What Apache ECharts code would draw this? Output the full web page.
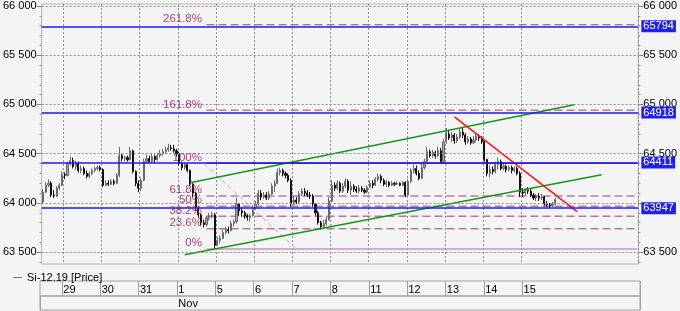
<!DOCTYPE html>
<html><head><meta charset="utf-8">
<script src="https://cdn.jsdelivr.net/npm/echarts@6/dist/echarts.min.js"></script>
<style>html,body{margin:0;padding:0;background:#f4f4f4}#c{width:680px;height:311px}</style>
</head><body><div id="c"></div><script>
// ---- data ----
const seriesName = 'Si-12.19 [Price]';
const days   = ['28','29','30','31','1','5','6','7','8','11','12','13','14','15'];
const months = ['Oct','Oct','Oct','Oct','Nov','Nov','Nov','Nov','Nov','Nov','Nov','Nov','Nov','Nov'];
// [open, close, low, high] hourly bars
const d28 = [[64010,64110,63990,64140],[64110,64180,64100,64210],[64180,64200,64160,64240],[64200,64080,64060,64220],[64080,64070,64050,64130],[64070,64150,64060,64170],[64150,64180,64130,64200],[64180,64290,64170,64320]];
const d29 = [[64290,64280,64240,64310],[64280,64400,64270,64420],[64400,64430,64380,64470],[64430,64370,64350,64460],[64370,64400,64340,64430],[64400,64330,64310,64420],[64330,64350,64300,64380],[64350,64300,64280,64370],[64300,64270,64250,64330],[64270,64300,64250,64320],[64300,64330,64280,64350],[64330,64350,64310,64370],[64350,64360,64330,64380],[64360,64340,64320,64380]];
const d30 = [[64340,64180,64160,64350],[64180,64200,64170,64230],[64200,64190,64170,64230],[64190,64220,64180,64240],[64220,64200,64180,64240],[64200,64280,64190,64300],[64280,64480,64260,64570],[64480,64450,64420,64500],[64450,64460,64420,64480],[64460,64440,64420,64480],[64440,64530,64430,64570],[64530,64320,64300,64540],[64320,64200,64170,64330],[64200,64150,64110,64230]];
const d31 = [[64150,64230,64120,64260],[64230,64420,64220,64450],[64420,64450,64400,64490],[64450,64420,64400,64480],[64420,64470,64410,64500],[64470,64440,64410,64490],[64440,64480,64430,64510],[64480,64500,64460,64540],[64500,64520,64480,64550],[64520,64540,64500,64570],[64540,64560,64520,64600],[64560,64550,64530,64590],[64550,64530,64510,64590],[64530,64500,64470,64550]];
const n01 = [[64500,64400,64380,64520],[64400,64360,64330,64420],[64360,64390,64340,64410],[64390,64330,64310,64400],[64330,64190,64170,64340],[64190,64100,64060,64200],[64100,63950,63920,64110],[63950,63880,63850,63970],[63880,63800,63770,63890],[63800,63780,63750,63830],[63780,63850,63760,63870],[63850,63870,63820,63900],[63870,63880,63840,63910],[63880,63570,63535,63900]];
const n05 = [[63570,63620,63560,63650],[63620,63640,63590,63670],[63640,63700,63630,63730],[63700,63730,63680,63760],[63730,63720,63690,63760],[63720,63790,63710,63820],[63790,63810,63760,63830],[63810,63990,63790,64050],[63990,63920,63870,64000],[63920,63900,63860,63960],[63900,63870,63840,63920],[63870,63850,63820,63890],[63850,63870,63810,63890],[63870,63950,63860,63980]];
const n06 = [[63950,63990,63930,64020],[63990,64100,63980,64130],[64100,64060,64030,64130],[64060,64080,64040,64110],[64080,64050,64030,64110],[64050,64090,64030,64120],[64090,64170,64080,64200],[64170,64200,64110,64230],[64200,64310,64190,64350],[64310,64330,64280,64360],[64330,64300,64270,64350],[64300,64280,64250,64320],[64280,64230,64210,64300],[64230,63990,63960,64250]];
const n07 = [[63990,64030,63980,64070],[64030,64010,63990,64060],[64010,64090,64000,64120],[64090,64120,64070,64150],[64120,64100,64070,64150],[64100,64080,64060,64130],[64080,64070,64040,64110],[64070,63990,63960,64090],[63990,63900,63870,64000],[63900,63800,63780,63920],[63800,63760,63730,63820],[63760,63790,63740,63830],[63790,63830,63770,63860],[63830,64020,63820,64060]];
const n08 = [[64020,64180,64010,64230],[64180,64150,64120,64210],[64150,64200,64130,64230],[64200,64120,64100,64220],[64120,64170,64100,64200],[64170,64220,64150,64250],[64220,64130,64100,64240],[64130,64170,64080,64220],[64170,64140,64110,64190],[64140,64120,64100,64170],[64120,64150,64100,64180],[64150,64130,64110,64170],[64130,64110,64090,64150],[64110,64160,64100,64180]];
const n11 = [[64160,64200,64150,64230],[64200,64180,64150,64230],[64180,64240,64170,64260],[64240,64270,64220,64300],[64270,64230,64200,64290],[64230,64190,64170,64250],[64190,64210,64160,64230],[64210,64180,64160,64220],[64180,64200,64170,64220],[64200,64190,64170,64210],[64190,64200,64180,64220],[64200,64180,64170,64210],[64180,64210,64170,64220],[64210,64080,64060,64220]];
const n12 = [[64080,64220,64070,64240],[64220,64330,64200,64350],[64330,64350,64300,64390],[64350,64300,64280,64380],[64300,64250,64230,64330],[64250,64360,64240,64400],[64360,64420,64340,64450],[64420,64520,64400,64570],[64520,64480,64460,64540],[64480,64510,64460,64540],[64510,64480,64450,64530],[64480,64530,64470,64570],[64530,64420,64400,64560],[64420,64620,64410,64650]];
const n13 = [[64620,64700,64600,64760],[64700,64660,64640,64740],[64660,64690,64620,64720],[64690,64630,64600,64710],[64630,64670,64610,64700],[64670,64720,64650,64760],[64720,64690,64660,64770],[64690,64620,64590,64710],[64620,64650,64600,64680],[64650,64610,64590,64670],[64610,64640,64600,64680],[64640,64680,64620,64700],[64680,64660,64630,64700],[64660,64620,64600,64680]];
const n14 = [[64620,64440,64420,64640],[64440,64300,64270,64450],[64300,64340,64260,64380],[64340,64320,64290,64370],[64320,64390,64300,64420],[64390,64420,64340,64460],[64420,64350,64330,64440],[64350,64370,64330,64400],[64370,64340,64310,64390],[64340,64360,64320,64380],[64360,64330,64300,64380],[64330,64350,64310,64370],[64350,64300,64280,64370],[64300,64110,64060,64320]];
const n15 = [[64110,64100,64060,64150],[64100,64130,64080,64150],[64130,64120,64090,64160],[64120,64080,64060,64140],[64080,64050,64030,64100],[64050,64070,64020,64090],[64070,64050,64020,64100],[64050,64060,64030,64090],[64060,63990,63970,64070],[63990,63980,63960,64020],[63980,63970,63950,64000],[63970,63990,63960,64010],[63990,64035,63980,64050]];
const barsByDay = [d28,d29,d30,d31,n01,n05,n06,n07,n08,n11,n12,n13,n14,n15];
const lastPrice = 64035;
const levelLines = [65794, 64918, 64411, 63947];
const fibNames  = ['0%','23.6%','38.2%','50%','61.8%','100%','161.8%','261.8%'];
const fibValues = [63532, 63737, 63864, 63967, 64070, 64402, 64940, 65810];
const fibFromBar = 60;
const fibDiagonal = [[59, 64402], [93, 63532]];
const greenUpper = [[54, 64205], [195, 64996]];
const greenLower = [[52, 63475], [205, 64286]];
const redLine    = [[151, 64874], [196, 63911]];
const yTicks = [63500, 64000, 64500, 65000, 65500, 66000];
const yRange = [63380, 66020];

// ---- build categories ----
const SLOTS = 14, TOTAL = 219;
const cats = [], ohlc = [], dayStartIdx = {}, monthStartIdx = {};
barsByDay.forEach((bars, di) => {
  const slots = di === 0 ? bars.length : SLOTS;
  const firstHour = di === 0 ? 24 - bars.length : 10;
  if (di > 0) dayStartIdx[cats.length] = days[di];
  if (di > 0 && months[di] !== months[di - 1]) monthStartIdx[cats.length] = months[di];
  for (let k = 0; k < slots; k++) {
    cats.push(days[di] + ' ' + months[di] + ' ' + (firstHour + k) + ':00');
    if (bars[k]) ohlc.push(bars[k]);
  }
});
while (cats.length < TOTAL) cats.push('pad' + cats.length);
const lastBar = cats.length - 1;

const fmt = v => String(v).replace(/\B(?=(\d{3})+(?!\d))/g, ' ');
const minorTicks = [];
for (let v = 63400; v <= 66000; v += 100) minorTicks.push(v);

const FONT = 'Liberation Sans';
const gridGray = '#8c8c8c';
const fibColor = '#b9789a';
const fibText = '#8c1a52';

const series = [];
const seg = (pts, color, width, type, z) => ({
  type: 'line', xAxisIndex: 0, yAxisIndex: 0, silent: true, animation: false, z: z == null ? 4 : z,
  symbol: 'none', lineStyle: { color, width, type }, data: pts
});

// horizontal dotted grid lines + level lines, as markLines of the price series
const gridMarks = yTicks.map(v => ({
  yAxis: v, label: { show: false },
  lineStyle: { color: gridGray, width: 1, type: [2, 2], opacity: 1 }
}));
const levelMarks = levelLines.map(v => ({ yAxis: v }));
const lastMark = {
  yAxis: lastPrice, lineStyle: { opacity: 0 },
  label: { color: '#000', backgroundColor: 'transparent', distance: 5, padding: 0, formatter: fmt(lastPrice) }
};

series.push({
  name: seriesName, type: 'candlestick', xAxisIndex: 0, yAxisIndex: 0, z: 2,
  data: ohlc, barWidth: 1.6, silent: true, animation: false,
  itemStyle: { color: '#a0a0a0', color0: '#111111', borderColor: '#6a6a6a', borderColor0: '#111111', borderWidth: 1 },
  markLine: {
    silent: true, animation: false, symbol: ['none', 'none'], precision: 0,
    lineStyle: { color: '#1c1cf0', width: 1.6, type: 'solid' },
    label: { position: 'end', distance: 3, color: '#ffffff', backgroundColor: '#2020ee',
      padding: [1, 2, 0, 2], fontSize: 11, fontFamily: FONT, formatter: p => String(p.value) },
    data: gridMarks.concat(levelMarks, [lastMark])
  }
});

// Fibonacci level lines
fibValues.forEach((v, i) => {
  const solid = fibNames[i] === '0%' || fibNames[i] === '100%';
  series.push(seg([[fibFromBar, v], [lastBar, v]],
    fibNames[i] === '100%' ? '#7a2a80' : (solid ? '#c898b8' : fibColor), 1.5, solid ? 'solid' : [8, 4], 1));
});
series.push({
  type: 'scatter', xAxisIndex: 0, yAxisIndex: 0, silent: true, animation: false, z: 10,
  symbol: 'circle', symbolSize: 1, itemStyle: { color: 'transparent' },
  label: { show: true, position: 'left', distance: 4, offset: [0, -6], color: fibText,
    fontSize: 11.5, fontFamily: FONT, formatter: p => fibNames[p.dataIndex] },
  data: fibValues.map(v => [fibFromBar, v])
});
series.push(seg(fibDiagonal, '#d7a0c0', 1, [5, 3]));
series.push(seg(greenUpper, '#16961a', 1.5, 'solid'));
series.push(seg(greenLower, '#16961a', 1.5, 'solid'));
series.push(seg(redLine, '#ff1515', 1.5, 'solid'));

const yMain = (pos, labels) => ({
  type: 'value', gridIndex: 0, position: pos, min: yRange[0], max: yRange[1],
  axisLine: { show: false },
  axisTick: { show: true, customValues: yTicks, length: 5, lineStyle: { color: '#808080' } },
  axisLabel: { customValues: labels, formatter: fmt, color: '#000', fontSize: 11, fontFamily: FONT, margin: 5 },
  splitLine: { show: false }
});
const yMinor = pos => ({
  type: 'value', gridIndex: 0, position: pos, min: yRange[0], max: yRange[1],
  axisLine: { show: false }, axisLabel: { show: false }, splitLine: { show: false },
  axisTick: { show: true, customValues: minorTicks, length: 2, lineStyle: { color: '#909090' } }
});

const option = {
  backgroundColor: '#f4f4f4',
  animation: false,
  textStyle: { fontFamily: FONT, fontSize: 11 },
  legend: {
    left: 8, top: 267, icon: 'path://M0,0H10V1H0Z', itemWidth: 9, itemHeight: 1, itemGap: 6,
    textStyle: { color: '#000', fontSize: 11, fontFamily: FONT },
    itemStyle: { borderWidth: 0 },
    data: [{ name: seriesName, itemStyle: { color: '#666', borderWidth: 0 } }], selectedMode: false
  },
  grid: [
    { left: 40, right: 40, top: 4, height: 260, show: true, backgroundColor: '#f4f4f4', borderColor: '#b4b4b4', borderWidth: 1 },
    { left: 40, right: 40, top: 281, height: 15, show: true, backgroundColor: 'transparent', borderColor: '#a0a0a0', borderWidth: 1 },
    { left: 40, right: 40, top: 296, height: 14, show: true, backgroundColor: 'transparent', borderColor: '#a0a0a0', borderWidth: 1 }
  ],
  xAxis: [
    { type: 'category', gridIndex: 0, data: cats, boundaryGap: true,
      axisLine: { show: false }, axisTick: { show: false }, axisLabel: { show: false },
      splitLine: { show: true, interval: i => i in dayStartIdx, lineStyle: { color: gridGray, type: [2, 2] } } },
    { type: 'category', gridIndex: 1, data: cats, boundaryGap: true, position: 'top',
      axisLine: { show: false }, axisTick: { show: false },
      axisLabel: { show: true, inside: true, margin: 3, align: 'left', color: '#000', fontSize: 11, fontFamily: FONT,
        interval: i => i in dayStartIdx, formatter: v => v.split(' ')[0] },
      splitLine: { show: true, interval: i => i in dayStartIdx, lineStyle: { color: '#a0a0a0', width: 1 } } },
    { type: 'category', gridIndex: 2, data: cats, boundaryGap: true, position: 'top',
      axisLine: { show: false }, axisTick: { show: false },
      axisLabel: { show: true, inside: true, margin: 2, align: 'left', color: '#000', fontSize: 11, fontFamily: FONT,
        interval: i => i in monthStartIdx, formatter: v => v.split(' ')[1] },
      splitLine: { show: true, interval: i => i in monthStartIdx, lineStyle: { color: '#a0a0a0', width: 1 } } }
  ],
  yAxis: [
    yMain('left', yTicks),
    yMain('right', yTicks.filter(v => Math.abs(v - lastPrice) > 100)),
    yMinor('left'), yMinor('right'),
    { type: 'value', gridIndex: 1, show: false },
    { type: 'value', gridIndex: 2, show: false }
  ],
  series
};
echarts.init(document.getElementById('c'), null, { renderer: 'canvas' }).setOption(option);
</script></body></html>
